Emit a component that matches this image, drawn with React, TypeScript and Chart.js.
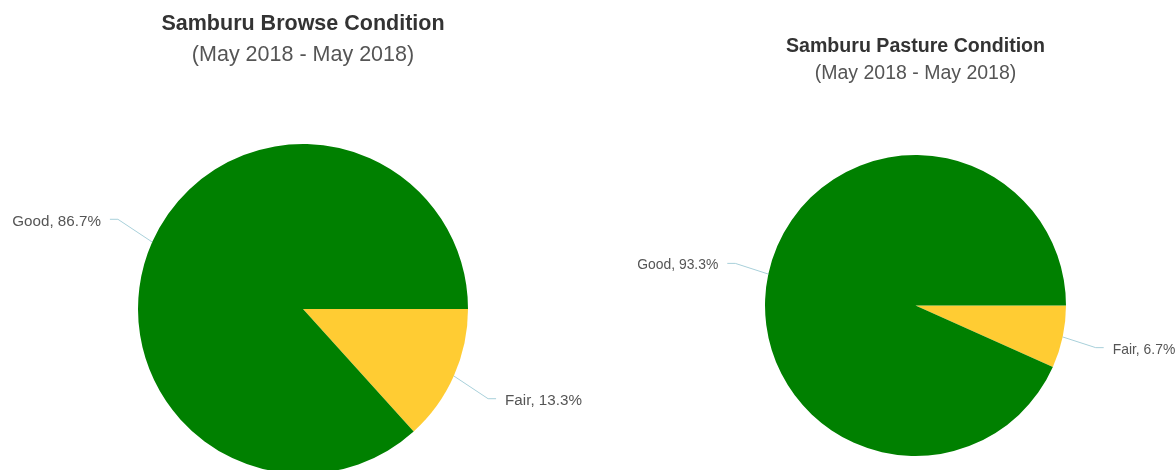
import React, { useEffect, useRef } from "react";
import { Chart, registerables } from "chart.js";

Chart.register(...registerables);

const FONT = '"Liberation Sans", Arial, Helvetica, sans-serif';

// ---- data ----
const browseCategories = ["Fair", "Good"];
const browseValues = [13.3, 86.7];
const pastureCategories = ["Fair", "Good"];
const pastureValues = [6.7, 93.3];
const browseTitle = "Samburu Browse Condition";
const pastureTitle = "Samburu Pasture Condition";
const periodSubtitle = "(May 2018 - May 2018)";
const sliceColors = ["#ffcc33", "#008000"];

const pieLabelPlugin = {
  id: "pieLabels",
  afterDatasetsDraw(chart: any, _args: any, opts: any) {
    const ctx = chart.ctx;
    const meta = chart.getDatasetMeta(0);
    const labels = chart.data.labels;
    const data = chart.data.datasets[0].data;
    ctx.save();
    ctx.font = `${opts.size}px ${FONT}`;
    meta.data.forEach((arc: any, i: number) => {
      const { x, y, startAngle, endAngle, outerRadius } = arc.getProps(
        ["x", "y", "startAngle", "endAngle", "outerRadius"],
        true
      );
      const mid = (startAngle + endAngle) / 2;
      const cos = Math.cos(mid);
      const sin = Math.sin(mid);
      const px = x + outerRadius * cos;
      const py = y + outerRadius * sin;
      const R = outerRadius * opts.distanceFactor;
      const lx = x + R * cos;
      const ly = y + R * sin;
      const dir = cos >= 0 ? 1 : -1;
      const hx = lx - dir * opts.gap;
      const bx = lx - dir * (opts.gap + opts.seg);
      ctx.strokeStyle = opts.connectorColor;
      ctx.lineWidth = 1;
      ctx.beginPath();
      ctx.moveTo(px, py);
      ctx.lineTo(bx, ly);
      ctx.lineTo(hx, ly);
      ctx.stroke();
      ctx.fillStyle = opts.color;
      ctx.textAlign = dir > 0 ? "left" : "right";
      ctx.textBaseline = "alphabetic";
      ctx.fillText(`${labels[i]}, ${data[i]}%`, lx, ly + 0.36 * opts.size + 1);
    });
    ctx.restore();
  },
};

type PieProps = {
  left: number;
  width: number;
  height: number;
  categories: string[];
  values: number[];
  title: string;
  subtitle: string;
  titleSize: number;
  subtitleSize: number;
  titlePad: { top: number; bottom: number };
  subtitlePad: { top: number; bottom: number };
  layoutPad: { left: number; right: number; top: number; bottom: number };
  labelSize: number;
};

function PieChart(p: PieProps) {
  const ref = useRef<HTMLCanvasElement | null>(null);
  useEffect(() => {
    if (!ref.current) return;
    const chart = new Chart(ref.current, {
      type: "pie",
      data: {
        labels: p.categories,
        datasets: [
          {
            data: p.values,
            backgroundColor: sliceColors,
            borderWidth: 0,
          },
        ],
      },
      options: {
        responsive: false,
        animation: false,
        rotation: 90,
        layout: { padding: p.layoutPad },
        plugins: {
          legend: { display: false },
          tooltip: { enabled: false },
          title: {
            display: true,
            text: p.title,
            color: "#333333",
            font: { family: FONT, size: p.titleSize, weight: "bold", lineHeight: 1.2 },
            padding: p.titlePad,
          },
          subtitle: {
            display: true,
            text: p.subtitle,
            color: "#555555",
            font: { family: FONT, size: p.subtitleSize, weight: "normal", lineHeight: 1.2 },
            padding: p.subtitlePad,
          },
          pieLabels: {
            size: p.labelSize,
            distanceFactor: 1.34,
            gap: 9,
            seg: 8,
            connectorColor: "#a8d0da",
            color: "#555555",
          },
        } as any,
      },
      plugins: [pieLabelPlugin as any],
    });
    return () => chart.destroy();
  }, []);
  return (
    <div style={{ position: "absolute", left: p.left, top: 0, width: p.width, height: p.height }}>
      <canvas ref={ref} width={p.width} height={p.height} style={{ display: "block" }} />
    </div>
  );
}

export default function App() {
  return (
    <div
      style={{
        position: "absolute",
        left: 0,
        top: 0,
        width: 1176,
        height: 470,
        overflow: "hidden",
        background: "#ffffff",
      }}
    >
      <PieChart
        left={0}
        width={588}
        height={474}
        categories={browseCategories}
        values={browseValues}
        title={browseTitle}
        subtitle={periodSubtitle}
        titleSize={21.5}
        subtitleSize={21.5}
        titlePad={{ top: 10.9, bottom: 0 }}
        subtitlePad={{ top: 5.4, bottom: 76.1 }}
        layoutPad={{ left: 18, right: 0, top: 0, bottom: 0 }}
        labelSize={15.2}
      />
      <PieChart
        left={588}
        width={588}
        height={470}
        categories={pastureCategories}
        values={pastureValues}
        title={pastureTitle}
        subtitle={periodSubtitle}
        titleSize={19.6}
        subtitleSize={19.5}
        titlePad={{ top: 34.5, bottom: 0 }}
        subtitlePad={{ top: 4.3, bottom: 69.3 }}
        layoutPad={{ left: 67, right: 0, top: 0, bottom: 14 }}
        labelSize={13.9}
      />
    </div>
  );
}
